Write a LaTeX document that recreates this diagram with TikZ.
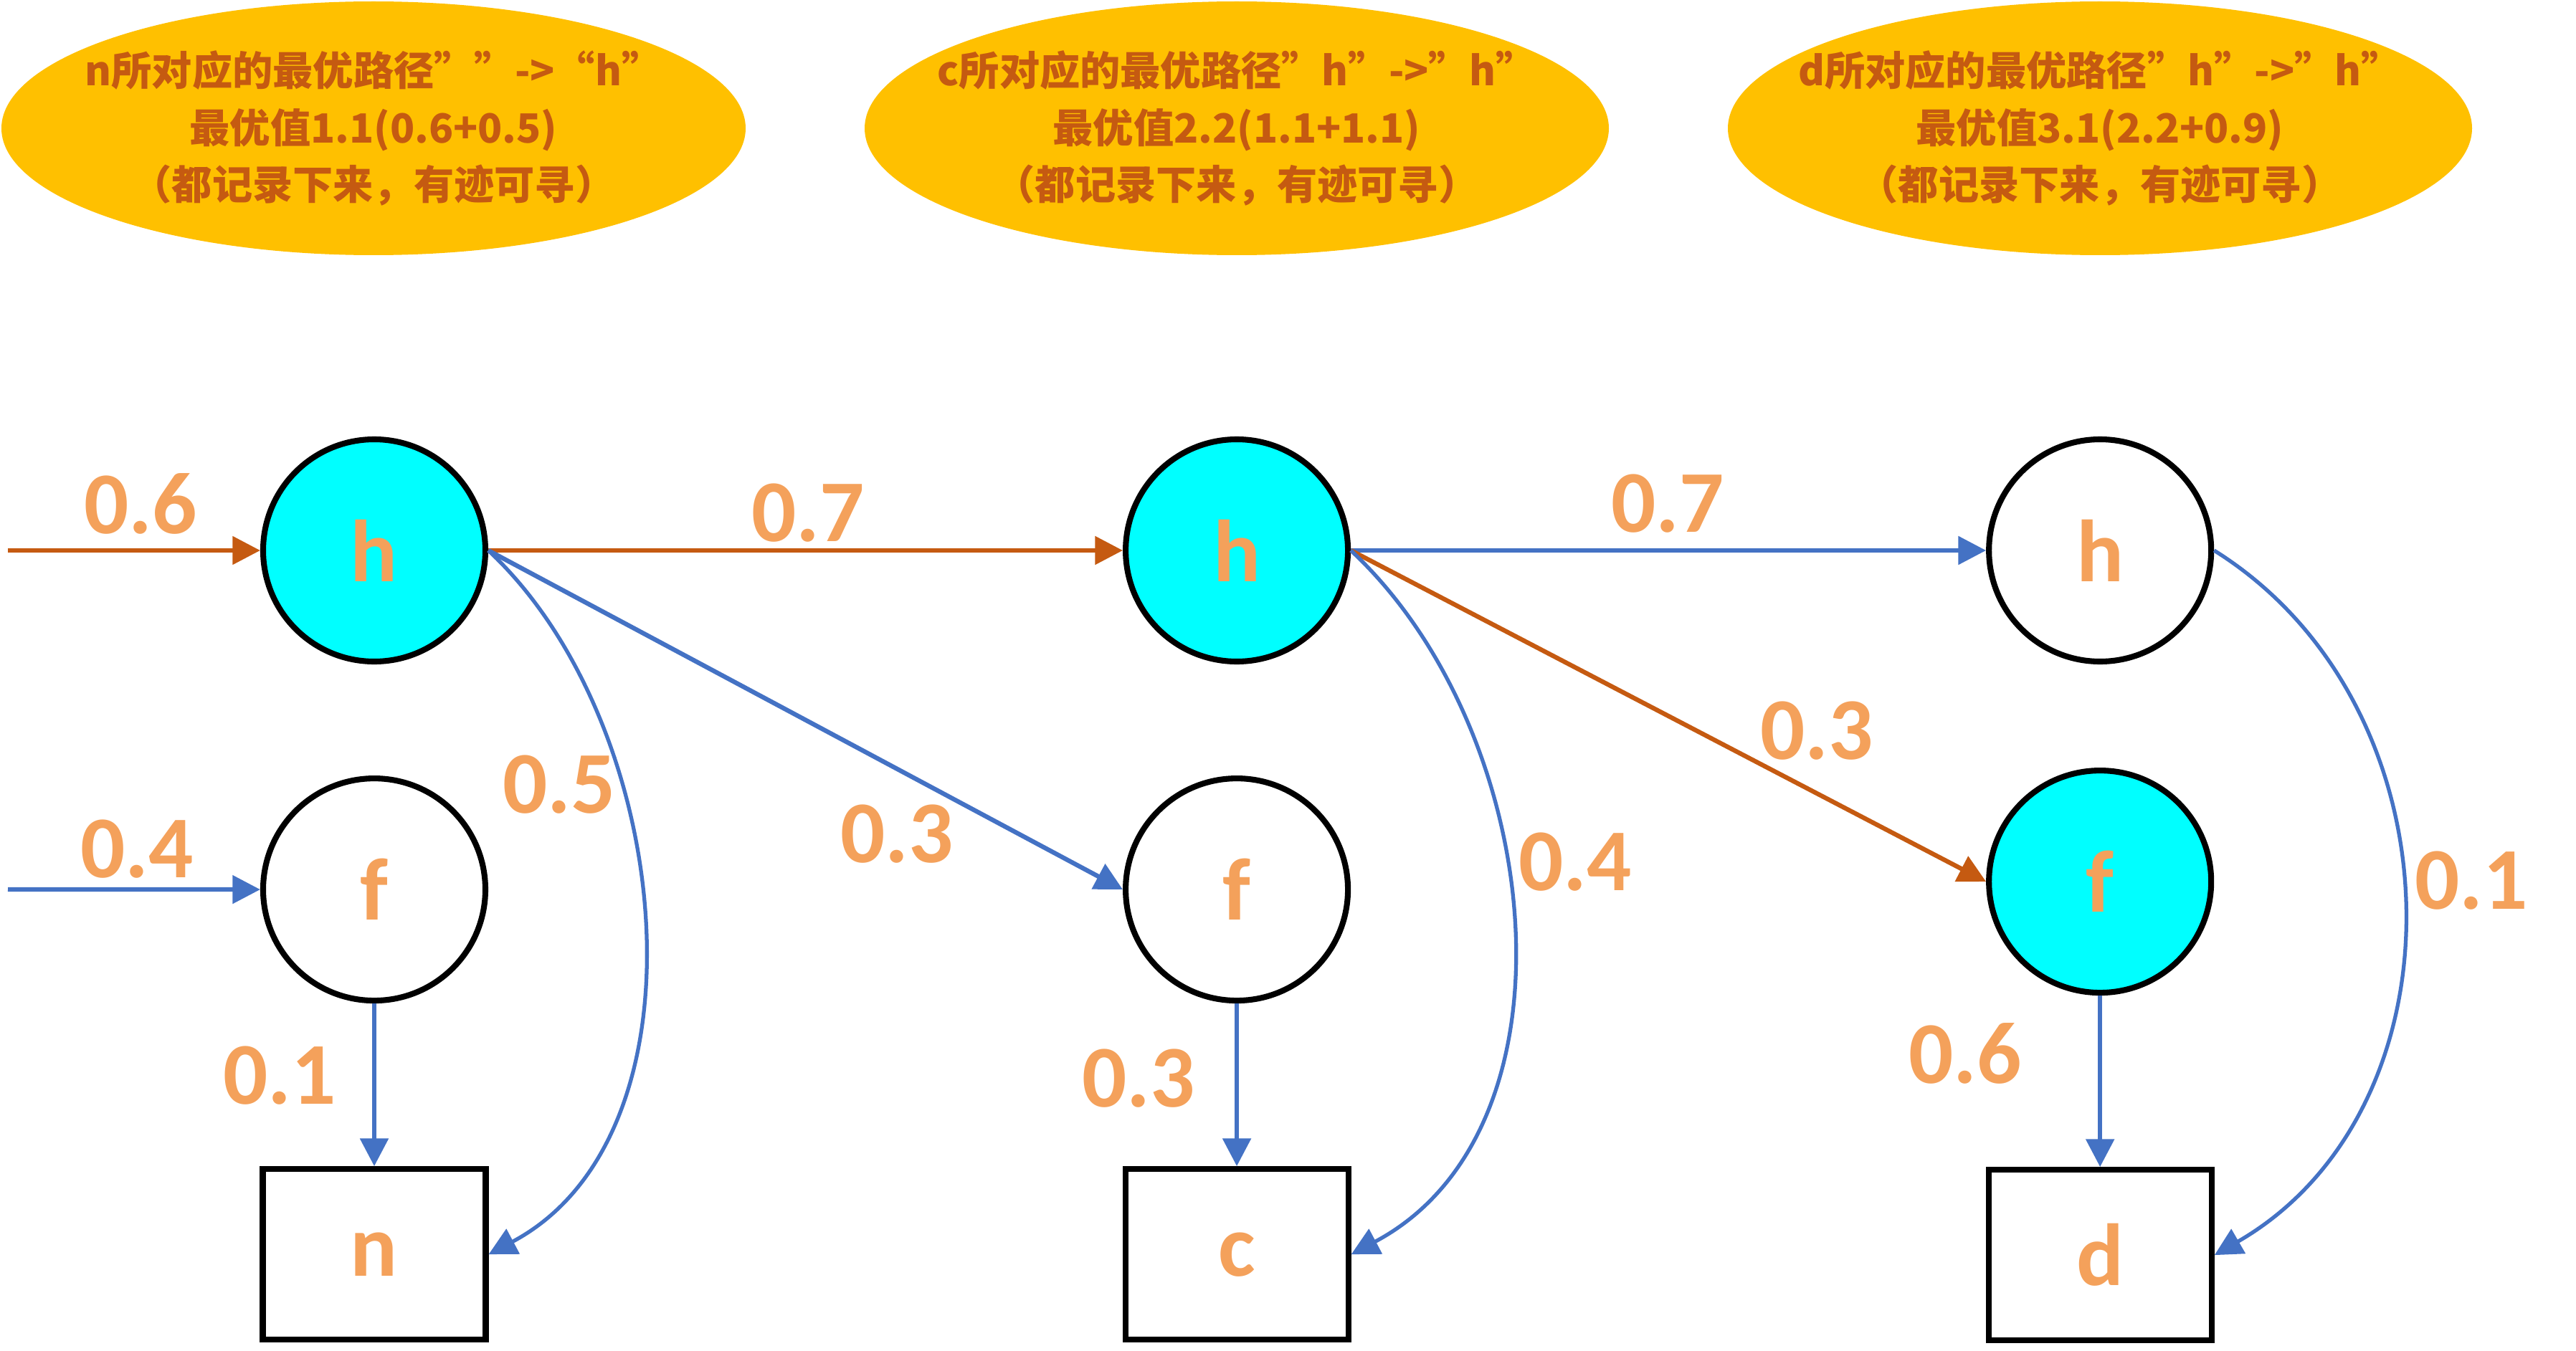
\documentclass[tikz,border=0pt]{standalone}
\usepackage{fontspec}
\setmainfont{Carlito}
\newfontfamily\cjk{Noto Sans CJK SC}
\usepackage{tikz}
\usetikzlibrary{shapes.geometric, arrows.meta, positioning}
\definecolor{gold}{HTML}{FFC000}
\definecolor{rust}{HTML}{C55A11}
\definecolor{peach}{HTML}{F4A15B}
\definecolor{steel}{HTML}{4472C4}
\definecolor{aqua}{HTML}{00FFFF}

\begin{document}
\begin{tikzpicture}[
    state/.style={circle, draw, line width=2.3pt, minimum size=3.1cm, inner sep=0pt, text=peach, font=\fontsize{35}{42}\selectfont\bfseries},
    final/.style={rectangle, draw, line width=2.3pt, minimum width=3.11cm, minimum height=2.38cm, inner sep=0pt, text=peach, font=\fontsize{35}{42}\selectfont\bfseries},
    note/.style={ellipse, fill=gold, minimum width=10.38cm, minimum height=3.54cm, inner xsep=-1.5cm, inner ysep=0pt, align=center, text=rust, font=\cjk\fontsize{16}{22.5}\selectfont\bfseries},
    weight/.style={inner sep=0pt, text=peach, font=\fontsize{35}{42}\selectfont\bfseries},
    arrow/.style={-{Triangle[length=11pt, width=11pt]}, line width=1.8pt},
    best/.style={arrow, draw=rust},
    other/.style={arrow, draw=steel}
]
    \useasboundingbox (0,0) rectangle (35.93,-18.85);

    % notes
    \node[note] (note1) at (5.21,-1.79) {n所对应的最优路径””->“h”\\最优值1.1(0.6+0.5)\\（都记录下来，有迹可寻）};
    \node[note] (note2) at (17.25,-1.79) {c所对应的最优路径”h”->”h”\\最优值2.2(1.1+1.1)\\（都记录下来，有迹可寻）};
    \node[note] (note3) at (29.29,-1.79) {d所对应的最优路径”h”->”h”\\最优值3.1(2.2+0.9)\\（都记录下来，有迹可寻）};

    % states
    \node[state, fill=aqua] (h1) at (5.22,-7.68) {h};
    \node[state, below=1.55cm of h1] (f1) {f};
    \node[final, below=2.27cm of f1] (n) {n};
    \node[state, fill=aqua, right=8.85cm of h1] (h2) {h};
    \node[state, below=1.55cm of h2] (f2) {f};
    \node[final, below=2.27cm of f2] (c) {c};
    \node[state, right=8.86cm of h2] (h3) {h};
    \node[state, fill=aqua, below=1.44cm of h3] (f3) {f};
    \node[final, below=2.39cm of f3] (d) {d};

    \coordinate (in1) at (0.11,-7.68);
    \coordinate (in2) at (0.11,-12.41);

    % edges
    \draw[best] (in1) -- (h1.west);
    \draw[other] (in2) -- (f1.west);
    \draw[best] (h1.east) -- (h2.west);
    \draw[other] (h1.east) -- (f2.west);
    \draw[other, line width=1.5pt] (h1.east) to[out=-43, in=28, looseness=0.93] (n.east);
    \draw[other] (f1) -- (n);
    \draw[other] (h2.east) -- (h3.west);
    \draw[best] (h2.east) -- (f3.west);
    \draw[other, line width=1.5pt] (h2.east) to[out=-43, in=28, looseness=0.97] (c.east);
    \draw[other] (f2) -- (c);
    \draw[other, line width=1.5pt] (h3.east) to[out=-32, in=30, looseness=1.07] (d.east);
    \draw[other] (f3) -- (d);

    % weights
    \node[weight] (w1) at (1.96,-7.03) {0.6};
    \node[weight] (w2) at (1.91,-11.85) {0.4};
    \node[weight] (w3) at (7.80,-10.95) {0.5};
    \node[weight] (w4) at (3.90,-15.01) {0.1};
    \node[weight] (w5) at (11.27,-7.16) {0.7};
    \node[weight] (w6) at (12.51,-11.64) {0.3};
    \node[weight] (w7) at (15.88,-15.05) {0.3};
    \node[weight] (w8) at (21.97,-12.03) {0.4};
    \node[weight] (w9) at (23.26,-7.03) {0.7};
    \node[weight] (w10) at (25.34,-10.20) {0.3};
    \node[weight] (w11) at (27.41,-14.70) {0.6};
    \node[weight] (w12) at (34.47,-12.29) {0.1};
\end{tikzpicture}
\end{document}
